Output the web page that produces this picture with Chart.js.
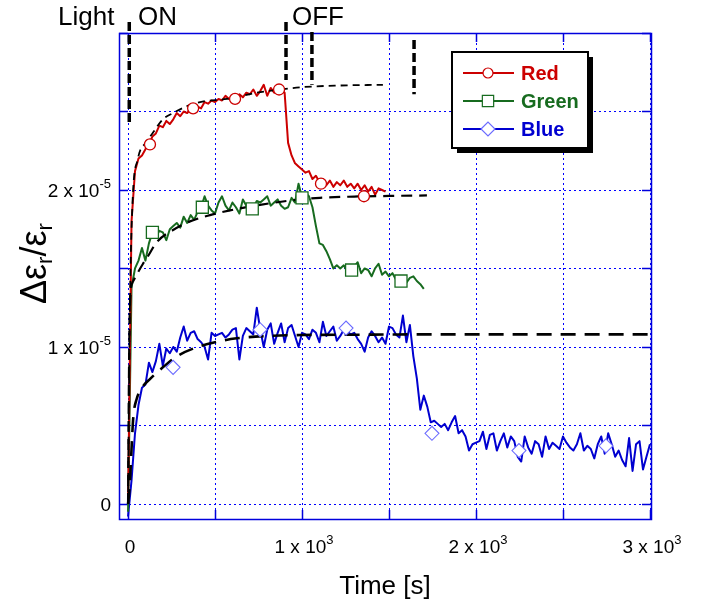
<!DOCTYPE html>
<html><head><meta charset="utf-8">
<script src="https://cdn.jsdelivr.net/npm/chart.js@4/dist/chart.umd.min.js"></script>
<style>html,body{margin:0;padding:0;background:#fff}#wrap{width:721px;height:610px}</style>
</head><body><div id="wrap"><canvas id="c" width="721" height="610"></canvas></div>
<script>
// ---- data (values in units of 1e-5, time in s) ----
const sampleIntervalS = 20;
const redValues = [0, 1.80, 2.12, 2.20, 2.22, 2.26, 2.29, 2.34, 2.36, 2.41,
  2.40, 2.44, 2.42, 2.45, 2.49, 2.47, 2.50, 2.49, 2.52, 2.51,
  2.53, 2.52, 2.56, 2.55, 2.57, 2.56, 2.58, 2.57, 2.60, 2.58,
  2.59, 2.58, 2.61, 2.59, 2.62, 2.61, 2.64, 2.60, 2.63, 2.67,
  2.60, 2.65, 2.62, 2.66, 2.64, 2.62, 2.30, 2.22, 2.17, 2.15,
  2.13, 2.11, 2.12, 2.07, 2.09, 2.05, 2.07, 2.03, 2.06, 2.02,
  2.05, 2.03, 2.06, 2.02, 2.04, 2.01, 2.04, 2.00, 2.03, 1.99,
  2.02, 1.97, 2.01, 2.00, 1.99];
const greenValues = [-0.05, 1.38, 1.50, 1.55, 1.63, 1.55, 1.66, 1.73, 1.70, 1.74,
  1.73, 1.68, 1.75, 1.77, 1.79, 1.76, 1.83, 1.79, 1.84, 1.81,
  1.86, 1.89, 1.96, 1.90, 1.87, 1.85, 1.92, 1.96, 1.90, 1.87,
  1.92, 1.89, 1.85, 1.94, 1.90, 1.88, 1.89, 1.93, 1.92, 1.94,
  1.96, 1.90, 1.92, 1.94, 1.90, 1.88, 1.89, 1.95, 1.92, 2.04,
  1.95, 1.98, 1.96, 1.89, 1.77, 1.66, 1.65, 1.61, 1.56, 1.50,
  1.52, 1.50, 1.52, 1.48, 1.49, 1.51, 1.54, 1.47, 1.50, 1.49,
  1.45, 1.50, 1.53, 1.46, 1.48, 1.45, 1.47, 1.43, 1.42, 1.44,
  1.41, 1.44, 1.45, 1.42, 1.40, 1.37];
const blueValues = [-0.08, 0.15, 0.45, 0.63, 0.74, 0.76, 0.90, 0.84, 0.91, 1.02,
  0.88, 0.99, 0.96, 1.00, 0.97, 1.06, 1.13, 1.04, 1.09, 1.10,
  1.05, 1.03, 1.00, 0.92, 1.09, 1.07, 1.08, 1.09, 1.06, 1.08,
  1.11, 1.12, 0.92, 1.07, 1.12, 1.10, 1.08, 1.25, 1.11, 1.00,
  1.11, 1.15, 1.02, 1.09, 1.15, 1.03, 1.12, 1.14, 1.07, 1.00,
  1.09, 1.08, 1.05, 1.11, 1.09, 1.03, 1.16, 1.07, 1.10, 1.13,
  1.04, 1.07, 1.11, 1.10, 1.08, 1.09, 1.05, 1.02, 0.97, 1.06,
  1.10, 1.07, 1.03, 1.06, 1.02, 1.13, 1.12, 1.08, 1.06, 1.20,
  1.03, 1.14, 0.94, 0.80, 0.60, 0.69, 0.62, 0.52, 0.53, 0.51,
  0.49, 0.51, 0.47, 0.52, 0.56, 0.45, 0.47, 0.43, 0.34, 0.38,
  0.39, 0.40, 0.46, 0.35, 0.44, 0.45, 0.34, 0.40, 0.45, 0.36,
  0.43, 0.40, 0.30, 0.27, 0.43, 0.36, 0.32, 0.40, 0.38, 0.30,
  0.43, 0.35, 0.39, 0.37, 0.35, 0.43, 0.39, 0.36, 0.34, 0.38,
  0.45, 0.34, 0.37, 0.35, 0.29, 0.38, 0.43, 0.32, 0.45, 0.38,
  0.30, 0.34, 0.28, 0.24, 0.42, 0.21, 0.38, 0.40, 0.22, 0.30,
  0.38];

const redMarkerTime = [126, 374, 615, 868, 1109, 1356];
const redMarkerValue = [2.29, 2.52, 2.58, 2.64, 2.04, 1.96];
const greenMarkerTime = [140, 427, 714, 1000, 1285, 1569];
const greenMarkerValue = [1.73, 1.89, 1.88, 1.95, 1.49, 1.42];
const blueMarkerTime = [259, 759, 1253, 1747, 2247, 2747];
const blueMarkerValue = [0.87, 1.11, 1.12, 0.45, 0.34, 0.37];

const redFitTime = [0, 10, 25, 57, 100, 140, 200, 259, 330, 414, 569, 741, 874, 1000, 1200, 1465];
const redFitValue = [0, 1.2, 1.9, 2.2, 2.3, 2.36, 2.45, 2.49, 2.53, 2.56, 2.58, 2.62, 2.64, 2.655, 2.665, 2.67];
const greenFitTime = [0, 5, 12, 30, 86, 110, 167, 259, 356, 471, 586, 759, 913, 1103, 1300, 1500, 1718];
const greenFitValue = [0, 0.8, 1.3, 1.42, 1.53, 1.57, 1.67, 1.745, 1.8, 1.84, 1.87, 1.905, 1.93, 1.95, 1.958, 1.962, 1.965];
const blueFitTime = [0, 10, 20, 30, 50, 80, 130, 200, 280, 375, 500, 625, 800, 1000, 1300, 1700, 3000];
const blueFitValue = [0, 0.12, 0.35, 0.55, 0.67, 0.74, 0.8, 0.87, 0.94, 0.99, 1.03, 1.055, 1.07, 1.076, 1.078, 1.08, 1.08];

const lightOnTime = 7;
const lightOnSpan = [3.07, 2.43];
const lightOffTimes = [908, 1057, 1644];
const lightOffTop = [3.07, 3.006, 2.955];
const lightOffBottom = [2.70, 2.67, 2.61];

const seriesNames = ['Red', 'Green', 'Blue'];
const xGridValues = [0, 500, 1000, 1500, 2000, 2500, 3000];
const yGridValues = [0, 0.5, 1, 1.5, 2, 2.5, 3];
const xTickValues = [0, 1000, 2000, 3000];
const xTickLabels = [['0', ''], ['1 x 10', '3'], ['2 x 10', '3'], ['3 x 10', '3']];
const yTickValues = [0, 1, 2];
const yTickLabels = [['0', ''], ['1 x 10', '-5'], ['2 x 10', '-5']];

// ---- styling ----
const COL = { red: '#cc0000', green: '#176b1f', blue: '#0000d0', blueMark: '#6b6bff', axis: '#0000dd', grid: '#0000ff' };
const FONT = '"Liberation Sans", Arial, sans-serif';

const series = (vals) => vals.map((v, i) => ({ x: i * sampleIntervalS, y: v }));
const pairs = (ts, vs) => ts.map((t, i) => ({ x: t, y: vs[i] }));

const dataLine = (label, vals, color) => ({
  label, data: series(vals), borderColor: color, borderWidth: 2, pointRadius: 0,
  borderJoinStyle: 'round', tension: 0, order: 3, clip: 2
});
const markerSet = (ts, vs, color, style, r, bw) => ({
  data: pairs(ts, vs), showLine: false, pointStyle: style, pointRadius: r,
  pointBorderColor: color, pointBackgroundColor: '#ffffff', pointBorderWidth: bw, order: 0
});
const fitSet = (ts, vs, dash, w) => ({
  data: pairs(ts, vs), borderColor: '#000', borderWidth: w, borderDash: dash, pointRadius: 0,
  cubicInterpolationMode: 'monotone', order: 1
});
const vMark = (t, top, bottom) => ({
  data: [{ x: t, y: top }, { x: t, y: bottom }], borderColor: '#000', borderWidth: 3.5,
  borderDash: [9, 4], pointRadius: 0, clip: false, order: 1
});

const datasets = [
  dataLine('Red', redValues, COL.red),
  dataLine('Green', greenValues, COL.green),
  dataLine('Blue', blueValues, COL.blue),
  fitSet(redFitTime, redFitValue, [7, 5], 1.8),
  fitSet(greenFitTime, greenFitValue, [11, 7], 2.2),
  fitSet(blueFitTime, blueFitValue, [15, 9], 2.6),
  vMark(lightOnTime, lightOnSpan[0], lightOnSpan[1]),
  ...lightOffTimes.map((t, i) => vMark(t, lightOffTop[i], lightOffBottom[i])),
  markerSet(redMarkerTime, redMarkerValue, COL.red, 'circle', 5.5, 1.3),
  markerSet(greenMarkerTime, greenMarkerValue, COL.green, 'rect', 8.5, 1.3),
  markerSet(blueMarkerTime, blueMarkerValue, COL.blueMark, 'rectRot', 7, 1.1)
];

function supText(ctx, base, exp, x, y, align, size) {
  ctx.font = size + 'px ' + FONT;
  const wb = ctx.measureText(base).width;
  const es = Math.round(size * 0.68);
  ctx.font = es + 'px ' + FONT;
  const we = exp ? ctx.measureText(exp).width : 0;
  const total = wb + we;
  let x0 = x;
  if (align === 'center') x0 = x - total / 2;
  if (align === 'right') x0 = x - total;
  ctx.textAlign = 'left';
  ctx.textBaseline = 'alphabetic';
  ctx.font = size + 'px ' + FONT;
  ctx.fillText(base, x0, y);
  if (exp) { ctx.font = es + 'px ' + FONT; ctx.fillText(exp, x0 + wb, y - size * 0.45); }
}

const framePlugin = {
  id: 'frame',
  beforeDatasetsDraw(chart) {
    const { ctx, chartArea: a, scales: { x, y } } = chart;
    ctx.save();
    ctx.strokeStyle = COL.grid; ctx.lineWidth = 1; ctx.setLineDash([2, 3]);
    xGridValues.forEach(v => { const px = Math.round(x.getPixelForValue(v)) + 0.5; ctx.beginPath(); ctx.moveTo(px, a.top); ctx.lineTo(px, a.bottom); ctx.stroke(); });
    yGridValues.forEach(v => { const py = Math.round(y.getPixelForValue(v)) + 0.5; ctx.beginPath(); ctx.moveTo(a.left, py); ctx.lineTo(a.right, py); ctx.stroke(); });
    ctx.setLineDash([]);
    ctx.strokeStyle = COL.axis; ctx.lineWidth = 1.5;
    const tl = 9;
    xGridValues.forEach(v => { const px = Math.round(x.getPixelForValue(v)) + 0.5;
      ctx.beginPath(); ctx.moveTo(px, a.bottom); ctx.lineTo(px, a.bottom - tl); ctx.moveTo(px, a.top); ctx.lineTo(px, a.top + tl); ctx.stroke(); });
    yGridValues.forEach(v => { const py = Math.round(y.getPixelForValue(v)) + 0.5;
      ctx.beginPath(); ctx.moveTo(a.left, py); ctx.lineTo(a.left + tl, py); ctx.moveTo(a.right, py); ctx.lineTo(a.right - tl, py); ctx.stroke(); });
    ctx.strokeRect(a.left + 0.5, a.top + 0.5, a.right - a.left, a.bottom - a.top);
    ctx.restore();
  },
  afterDraw(chart) {
    const { ctx, chartArea: a, scales: { x, y } } = chart;
    ctx.save();
    ctx.fillStyle = '#000';
    xTickValues.forEach((v, i) => supText(ctx, xTickLabels[i][0], xTickLabels[i][1], x.getPixelForValue(v) + 2, 553, 'center', 19));
    yTickValues.forEach((v, i) => supText(ctx, yTickLabels[i][0], yTickLabels[i][1], 111, y.getPixelForValue(v) + 7, 'right', 19));
    ctx.font = '26px ' + FONT; ctx.textAlign = 'center'; ctx.textBaseline = 'alphabetic';
    ctx.fillText('Time [s]', (a.left + a.right) / 2, 594);
    ctx.save();
    ctx.translate(46, 304); ctx.rotate(-Math.PI / 2);
    ctx.textAlign = 'left';
    let cx = 0;
    const big = '36px ' + FONT, small = '22px ' + FONT;
    const parts = [['Δε', big, 0], ['r', small, 6], ['/ε', big, 0], ['r', small, 6]];
    parts.forEach(([s, f, dy]) => { ctx.font = f; ctx.fillText(s, cx, dy); cx += ctx.measureText(s).width; });
    ctx.restore();
    ctx.font = '26px ' + FONT; ctx.textAlign = 'left';
    ctx.fillText('Light', 58, 25);
    ctx.fillText('ON', 138, 25);
    ctx.fillText('OFF', 292, 25);
    const L = { x: 452, y: 52, w: 136, h: 96 };
    ctx.fillStyle = '#000'; ctx.fillRect(L.x + 5, L.y + 5, L.w, L.h);
    ctx.fillStyle = '#fff'; ctx.fillRect(L.x, L.y, L.w, L.h);
    ctx.strokeStyle = '#000'; ctx.lineWidth = 2; ctx.strokeRect(L.x, L.y, L.w, L.h);
    const cols = [COL.red, COL.green, COL.blue];
    const mcols = [COL.red, COL.green, COL.blueMark];
    const styles = ['circle', 'rect', 'rectRot'];
    const radii = [5, 8, 7];
    seriesNames.forEach((name, i) => {
      const yy = 73 + i * 28;
      ctx.strokeStyle = cols[i]; ctx.lineWidth = 2;
      ctx.beginPath(); ctx.moveTo(463, yy); ctx.lineTo(514, yy); ctx.stroke();
      ctx.fillStyle = '#fff'; ctx.strokeStyle = mcols[i]; ctx.lineWidth = 1.2;
      Chart.helpers.drawPoint(ctx, { pointStyle: styles[i], radius: radii[i], rotation: 0, borderWidth: 1.2 }, 488, yy);
      ctx.fillStyle = cols[i]; ctx.font = 'bold 20px ' + FONT; ctx.textBaseline = 'middle'; ctx.textAlign = 'left';
      ctx.fillText(name, 521, yy + 1);
    });
    ctx.restore();
  }
};

new Chart(document.getElementById('c'), {
  type: 'line',
  data: { datasets },
  options: {
    responsive: false, animation: false, devicePixelRatio: 1,
    layout: { padding: { left: 119, right: 70, top: 33, bottom: 91 } },
    plugins: { legend: { display: false }, tooltip: { enabled: false } },
    scales: {
      x: { type: 'linear', min: -52, max: 3006, display: false },
      y: { type: 'linear', min: -0.096, max: 3.0, display: false }
    }
  },
  plugins: [framePlugin]
});
</script></body></html>
